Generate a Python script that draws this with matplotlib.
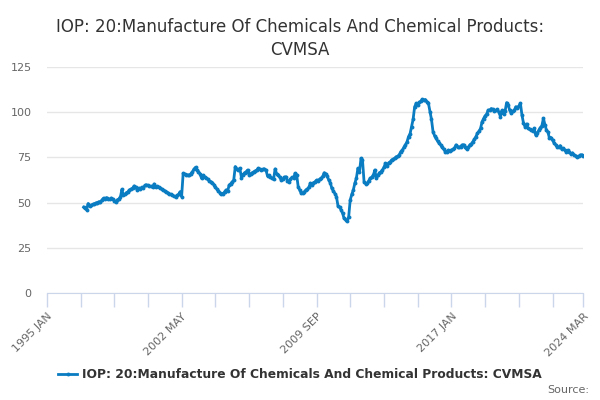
import matplotlib
matplotlib.use("Agg")
import matplotlib.pyplot as plt
import pandas as pd
import numpy as np

title = "IOP: 20:Manufacture Of Chemicals And Chemical Products:\nCVMSA"
series_name = "IOP: 20:Manufacture Of Chemicals And Chemical Products: CVMSA"
start_month = "1997-01"

v1997 = [47.5, 47.0, 46.0, 49.5, 48.0, 48.5, 49.0, 49.3, 49.8, 50.0, 50.5, 50.2]
v1998 = [51.5, 52.5, 52.0, 52.8, 52.0, 51.8, 52.5, 52.0, 51.0, 50.5, 51.5, 52.0]
v1999 = [53.0, 57.3, 54.0, 54.5, 55.5, 56.0, 57.0, 57.5, 58.0, 59.2, 58.5, 57.0]
v2000 = [58.0, 57.5, 58.5, 58.0, 59.5, 59.8, 59.5, 59.0, 59.0, 58.5, 60.3, 58.5]
v2001 = [59.0, 58.5, 58.0, 57.5, 57.0, 56.5, 56.0, 55.5, 54.8, 54.5, 54.0, 53.5]
v2002 = [53.3, 54.0, 54.5, 56.0, 53.3, 66.2, 65.8, 65.5, 65.3, 65.0, 66.0, 67.0]
v2003 = [68.5, 69.5, 68.0, 67.1, 66.0, 63.4, 65.0, 64.3, 63.5, 63.0, 62.0, 61.6]
v2004 = [61.0, 60.0, 58.5, 57.5, 56.5, 55.5, 55.0, 54.8, 56.0, 57.0, 56.5, 59.7]
v2005 = [60.5, 61.5, 62.5, 69.9, 68.5, 68.0, 69.0, 63.8, 65.5, 66.5, 67.0, 68.0]
v2006 = [65.3, 66.0, 66.5, 67.0, 67.5, 68.0, 69.0, 68.5, 68.0, 68.5, 68.6, 68.0]
v2007 = [64.7, 65.0, 64.0, 63.5, 62.9, 68.6, 66.0, 65.3, 64.0, 62.5, 63.0, 64.0]
v2008 = [64.3, 62.0, 61.6, 63.0, 64.0, 63.5, 66.2, 65.5, 58.8, 57.0, 55.1, 55.5]
v2009 = [56.0, 57.0, 57.5, 58.5, 60.7, 60.0, 61.0, 61.5, 62.5, 62.0, 63.0, 63.5]
v2010 = [64.5, 66.5, 66.0, 64.5, 62.5, 61.0, 57.9, 56.5, 55.0, 53.3, 48.1, 47.5]
v2011 = [46.0, 44.0, 41.3, 40.4, 40.0, 42.2, 51.4, 54.5, 57.0, 60.7, 63.5, 69.0]
v2012 = [67.1, 74.5, 73.6, 61.6, 60.5, 60.7, 62.0, 63.5, 64.0, 65.0, 68.0, 63.4]
v2013 = [65.0, 66.5, 67.0, 68.0, 69.5, 71.7, 70.5, 72.0, 72.5, 73.6, 74.0, 74.5]
v2014 = [75.4, 75.5, 76.5, 78.2, 79.0, 80.5, 81.9, 83.5, 86.5, 88.0, 92.0, 96.0]
v2015 = [103.0, 104.9, 104.0, 105.5, 106.0, 107.1, 106.5, 107.0, 105.8, 105.0, 100.3, 96.0]
v2016 = [89.2, 87.0, 85.6, 84.0, 83.0, 81.9, 80.5, 79.5, 78.2, 78.0, 79.0, 78.5]
v2017 = [79.1, 79.5, 80.0, 81.9, 81.0, 80.5, 81.0, 81.9, 82.0, 80.5, 79.5, 80.5]
v2018 = [82.0, 82.5, 83.7, 85.0, 86.5, 88.3, 89.5, 91.0, 94.7, 96.5, 98.0, 99.0]
v2019 = [101.2, 101.0, 102.0, 101.6, 100.5, 101.0, 101.5, 100.0, 97.5, 101.0, 99.0, 100.5]
v2020 = [105.3, 104.0, 101.2, 99.4, 100.5, 101.0, 103.0, 102.5, 103.5, 104.9, 98.4, 94.0]
v2021 = [92.0, 93.5, 91.0, 90.5, 90.2, 89.5, 91.0, 87.4, 88.5, 90.0, 91.5, 92.5]
v2022 = [96.6, 93.0, 90.2, 89.0, 85.6, 86.0, 84.5, 83.0, 82.0, 80.9, 80.5, 81.5]
v2023 = [79.5, 80.0, 79.1, 78.2, 79.0, 78.0, 77.0, 77.5, 76.5, 76.0, 75.1, 75.5]
v2024 = [76.3, 76.5, 76.0]

values = (v1997 + v1998 + v1999 + v2000 + v2001 + v2002 + v2003 + v2004 + v2005 +
          v2006 + v2007 + v2008 + v2009 + v2010 + v2011 + v2012 + v2013 + v2014 +
          v2015 + v2016 + v2017 + v2018 + v2019 + v2020 + v2021 + v2022 + v2023 + v2024)

major_ticks = ["1995-01", "2002-05", "2009-09", "2017-01", "2024-03"]
major_labels = ["1995 JAN", "2002 MAY", "2009 SEP", "2017 JAN", "2024 MAR"]
y_ticks = [0, 25, 50, 75, 100, 125]

dates = pd.date_range(start_month, periods=len(values), freq="MS")

fig = plt.figure(figsize=(6, 4), dpi=100)
ax = fig.add_axes([0.078, 0.2675, 0.894, 0.565])

color = "#0a7cc1"
line, = ax.plot(dates, values, color=color, lw=2, marker="o", ms=2.8,
                markeredgewidth=0, label=series_name, zorder=3)

ax.set_ylim(0, 125)
ax.set_yticks(y_ticks)
ax.set_xlim(pd.Timestamp(major_ticks[0]), pd.Timestamp(major_ticks[-1]))

maj = [pd.Timestamp(t) for t in major_ticks]
minor = []
t = maj[0]
while t < maj[-1]:
    if t not in maj:
        minor.append(t)
    t = t + pd.DateOffset(months=22)
ax.set_xticks(maj)
ax.set_xticklabels(major_labels, rotation=45, ha="right", rotation_mode="anchor",
                   color="#666666", fontsize=8)
ax.set_xticks(minor, minor=True)
ax.tick_params(axis="x", which="both", length=10, color="#ccd6eb", width=1, pad=3)
ax.tick_params(axis="y", length=0, labelcolor="#666666", labelsize=8, pad=11)

ax.grid(axis="y", color="#e6e6e6", lw=1)
ax.set_axisbelow(True)
for s in ["left", "right", "top"]:
    ax.spines[s].set_visible(False)
ax.spines["bottom"].set_color("#ccd6eb")

fig.text(0.5, 0.955, title, ha="center", va="top", fontsize=12, color="#333333",
         linespacing=1.35)

leg = fig.legend(handles=[line], loc="center", bbox_to_anchor=(0.5, 0.063),
                 frameon=False, fontsize=8.8, handlelength=1.6, handletextpad=0.4)
for txt in leg.get_texts():
    txt.set_color("#333333")
    txt.set_fontweight("bold")

fig.text(0.982, 0.025, "Source:", ha="right", va="center", fontsize=8, color="#666666")

fig.savefig("out.png", dpi=100)
